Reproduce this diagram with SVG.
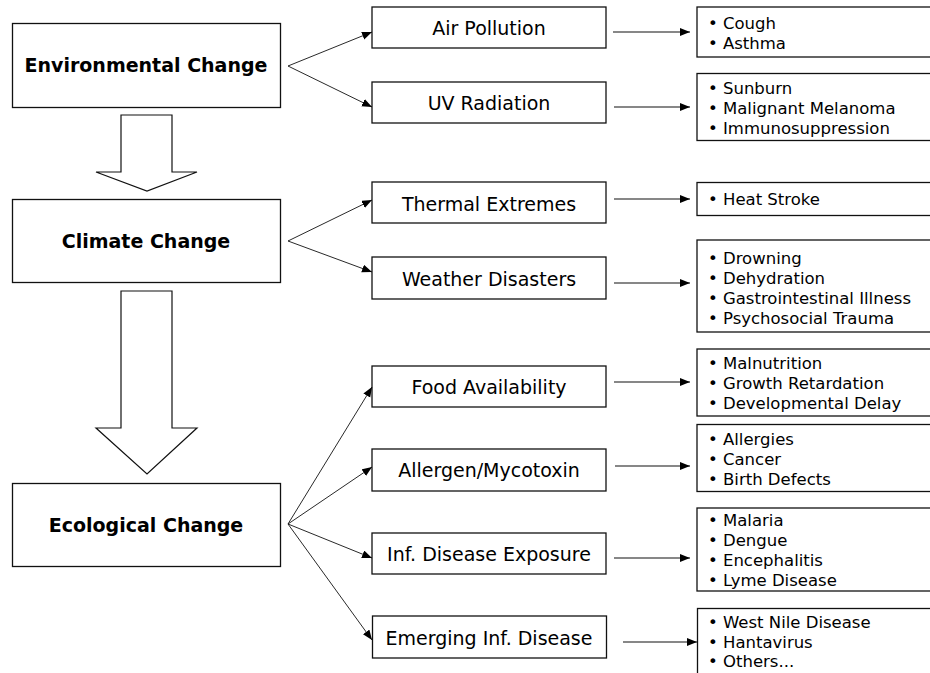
<svg xmlns="http://www.w3.org/2000/svg" width="930" height="673" viewBox="0 0 930 673">
<defs>
<marker id="ah" markerUnits="userSpaceOnUse" markerWidth="11" markerHeight="9" refX="10" refY="4" orient="auto">
<path d="M0,0 L10,4 L0,8 z" fill="#000"/>
</marker>
<style>
.box{fill:#fff;stroke:#111;stroke-width:1.3}
.big{fill:#fff;stroke:#111;stroke-width:1.2}
.title{font-family:"DejaVu Sans",Verdana,sans-serif;font-weight:bold;font-size:19px;text-anchor:middle;fill:#000}
.mid{font-family:"DejaVu Sans",Verdana,sans-serif;font-size:19px;text-anchor:middle;fill:#000}
.lst{font-family:"DejaVu Sans",Verdana,sans-serif;font-size:16.5px;fill:#000}
.br{stroke:#111;stroke-width:0.9;fill:none;marker-end:url(#ah)}
.hz{stroke:#111;stroke-width:1.2;fill:none;marker-end:url(#ah)}
</style>
</defs>
<rect width="930" height="673" fill="#fff"/>

<g id="env">
<rect class="box" x="12.5" y="23.5" width="268" height="84"/>
<text class="title" x="146" y="72">Environmental Change</text>
</g>
<g id="climate">
<rect class="box" x="12.5" y="199.5" width="268" height="83"/>
<text class="title" x="146" y="248">Climate Change</text>
</g>
<g id="eco">
<rect class="box" x="12.5" y="483.5" width="268" height="83"/>
<text class="title" x="146" y="532">Ecological Change</text>
</g>

<g id="bigarrows">
<polygon class="big" points="121,115 172,115 172,172 197,172 147,191 96,172 121,172"/>
<polygon class="big" points="121,291 172,291 172,428 197,428 147,474 96,428 121,428"/>
</g>

<g id="air"><rect class="box" x="372" y="7" width="234" height="41"/><text class="mid" x="489" y="35">Air Pollution</text></g>
<g id="uv"><rect class="box" x="372" y="82" width="234" height="41"/><text class="mid" x="489" y="110">UV Radiation</text></g>
<g id="thermal"><rect class="box" x="372" y="182" width="234" height="41"/><text class="mid" x="489" y="210.5">Thermal Extremes</text></g>
<g id="weather"><rect class="box" x="372" y="257" width="234" height="42"/><text class="mid" x="489" y="285.5">Weather Disasters</text></g>
<g id="food"><rect class="box" x="372" y="366" width="234" height="41"/><text class="mid" x="489" y="393.5">Food Availability</text></g>
<g id="allergen"><rect class="box" x="372" y="449" width="234" height="42"/><text class="mid" x="489" y="477">Allergen/Mycotoxin</text></g>
<g id="infexp"><rect class="box" x="372" y="533" width="234" height="41"/><text class="mid" x="489" y="561">Inf. Disease Exposure</text></g>
<g id="emerging"><rect class="box" x="372.5" y="616" width="234" height="42"/><text class="mid" x="489" y="645">Emerging Inf. Disease</text></g>

<g id="r-air"><rect class="box" x="697" y="7" width="240" height="50"/>
<text class="lst" x="708" y="28.5">• Cough</text><text class="lst" x="708" y="48.5">• Asthma</text></g>
<g id="r-uv"><rect class="box" x="697" y="73.5" width="240" height="67"/>
<text class="lst" x="708" y="93.5">• Sunburn</text><text class="lst" x="708" y="113.5">• Malignant Melanoma</text><text class="lst" x="708" y="133.5">• Immunosuppression</text></g>
<g id="r-thermal"><rect class="box" x="697" y="182.5" width="240" height="33"/>
<text class="lst" x="708" y="205">• Heat Stroke</text></g>
<g id="r-weather"><rect class="box" x="697" y="240" width="240" height="92"/>
<text class="lst" x="708" y="263.5">• Drowning</text><text class="lst" x="708" y="283.5">• Dehydration</text><text class="lst" x="708" y="303.5">• Gastrointestinal Illness</text><text class="lst" x="708" y="323.5">• Psychosocial Trauma</text></g>
<g id="r-food"><rect class="box" x="697" y="349" width="240" height="67"/>
<text class="lst" x="708" y="369">• Malnutrition</text><text class="lst" x="708" y="389">• Growth Retardation</text><text class="lst" x="708" y="409">• Developmental Delay</text></g>
<g id="r-allergen"><rect class="box" x="697" y="424.5" width="240" height="67"/>
<text class="lst" x="708" y="444.5">• Allergies</text><text class="lst" x="708" y="464.5">• Cancer</text><text class="lst" x="708" y="484.5">• Birth Defects</text></g>
<g id="r-infexp"><rect class="box" x="697" y="508" width="240" height="83"/>
<text class="lst" x="708" y="526">• Malaria</text><text class="lst" x="708" y="546">• Dengue</text><text class="lst" x="708" y="566">• Encephalitis</text><text class="lst" x="708" y="586">• Lyme Disease</text></g>
<g id="r-emerging"><rect class="box" x="697.5" y="608.5" width="240" height="80"/>
<text class="lst" x="708" y="627.5">• West Nile Disease</text><text class="lst" x="708" y="647.5">• Hantavirus</text><text class="lst" x="708" y="667">• Others...</text></g>

<g id="connectors">
<line class="br" x1="288" y1="66" x2="372" y2="32"/>
<line class="br" x1="288" y1="66" x2="372" y2="107"/>
<line class="br" x1="288" y1="241" x2="372" y2="200"/>
<line class="br" x1="288" y1="241" x2="372" y2="272"/>
<line class="br" x1="288" y1="524" x2="372" y2="387"/>
<line class="br" x1="288" y1="524" x2="372" y2="467"/>
<line class="br" x1="288" y1="524" x2="372" y2="558"/>
<line class="br" x1="288" y1="524" x2="372" y2="640"/>
<line class="hz" x1="613" y1="32" x2="690" y2="32"/>
<line class="hz" x1="614" y1="107" x2="690" y2="107"/>
<line class="hz" x1="614" y1="199" x2="690" y2="199"/>
<line class="hz" x1="614" y1="283" x2="690" y2="283"/>
<line class="hz" x1="614" y1="382" x2="690" y2="382"/>
<line class="hz" x1="615" y1="466" x2="690" y2="466"/>
<line class="hz" x1="614" y1="558" x2="690" y2="558"/>
<line class="hz" x1="623" y1="642" x2="697" y2="642"/>
</g>
</svg>
